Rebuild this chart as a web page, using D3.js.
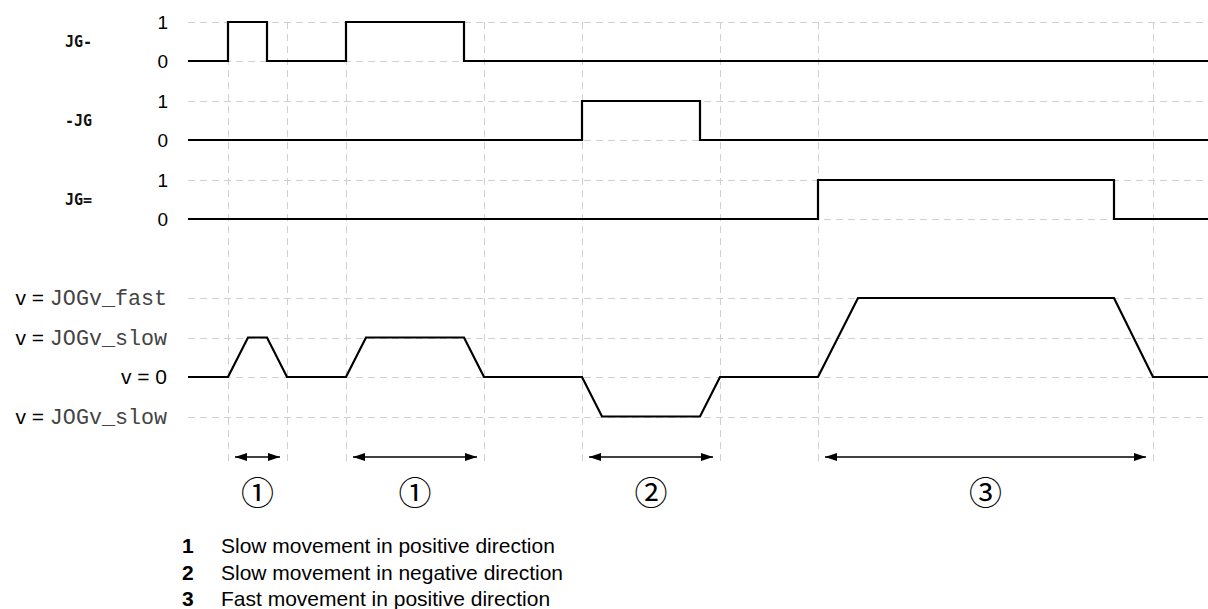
<!DOCTYPE html>
<html>
<head>
<meta charset="utf-8">
<script src="https://cdn.jsdelivr.net/npm/d3@7"></script>
<style>
  html, body { margin: 0; padding: 0; background: #fff; }
  svg { display: block; }
</style>
</head>
<body>
<svg id="chart" width="1208" height="609"></svg>
<script>
// ---------- DATA ----------
const signalNames = ["JG-", "-JG", "JG="];
const signalLevels = [1, 0];
const jgMinus = [[0, 0], [4, 1], [7.9, 0], [15.8, 1], [27.6, 0], [102, 0]];
const minusJg = [[0, 0], [39.4, 1], [51.2, 0], [102, 0]];
const jgEq = [[0, 0], [63, 1], [92.6, 0], [102, 0]];
const velocityLevels = [2, 1, 0, -1];
const velocityPrefix = ["v = ", "v = ", "v = 0", "v = "];
const velocityNames = ["JOGv_fast", "JOGv_slow", "", "JOGv_slow"];
const velocity = [[0, 0], [4, 0], [6, 1], [7.9, 1], [9.9, 0], [15.8, 0], [17.8, 1], [27.6, 1], [29.6, 0],
                  [39.4, 0], [41.4, -1], [51.2, -1], [53.2, 0], [63, 0], [67, 2], [92.6, 2], [96.5, 0], [102, 0]];
const gridTimes = [4, 9.9, 15.8, 29.6, 39.4, 53.2, 63, 96.5];
const spans = [[4, 9.9], [15.8, 29.6], [39.4, 53.2], [63, 96.5]];
const spanLabels = ["\u2460", "\u2460", "\u2461", "\u2462"];
const legendNums = ["1", "2", "3"];
const legendTexts = ["Slow movement in positive direction",
                     "Slow movement in negative direction",
                     "Fast movement in positive direction"];

// ---------- LAYOUT ----------
const svg = d3.select("#chart");
const x = d3.scaleLinear().domain([0, 102]).range([188, 1208]);
const rowY = d3.scalePoint().domain(signalNames).range([22, 180]);
const levelY = d3.scaleLinear().domain([0, 1]).range([39, 0]);
const vY = d3.scaleLinear().domain([-1, 2]).range([416.5, 298]);
const gridTop = 22, gridBottom = 463;
const signals = [jgMinus, minusJg, jgEq];

const grid = svg.append("g").attr("stroke", "#d0d0d0").attr("stroke-width", 1).attr("fill", "none");

signalNames.forEach(n => {
  signalLevels.forEach(l => {
    const yy = Math.round(rowY(n) + levelY(l)) + 0.5;
    grid.append("line").attr("x1", x(0)).attr("x2", x(102)).attr("y1", yy).attr("y2", yy)
      .attr("stroke-dasharray", "7,5");
  });
});
velocityLevels.forEach(v => {
  const yy = Math.round(vY(v)) + 0.5;
  grid.append("line").attr("x1", x(0)).attr("x2", x(102)).attr("y1", yy).attr("y2", yy)
    .attr("stroke-dasharray", "7,5");
});
gridTimes.forEach(t => {
  const xx = Math.round(x(t)) + 0.5;
  grid.append("line").attr("x1", xx).attr("x2", xx).attr("y1", gridTop).attr("y2", gridBottom)
    .attr("stroke-dasharray", "7,5");
});

const stepLine = d3.line().x(d => x(d[0])).curve(d3.curveStepAfter);
signalNames.forEach((n, i) => {
  const g = svg.append("g").attr("transform", `translate(0,${rowY(n)})`);
  g.append("path").datum(signals[i])
    .attr("d", stepLine.y(d => levelY(d[1])))
    .attr("fill", "none").attr("stroke", "#000").attr("stroke-width", 2.2);
  const ax = d3.axisLeft(levelY).tickValues(signalLevels).tickFormat(d3.format("d")).tickSize(0).tickPadding(20);
  const ag = g.append("g").attr("transform", `translate(${x(0)},0)`).call(ax);
  ag.select(".domain").remove();
  ag.selectAll("text").attr("font-family", "Liberation Sans, Arial, sans-serif").attr("font-size", 19).attr("fill", "#000");
  g.append("text").attr("x", 65).attr("y", (levelY(0) + levelY(1)) / 2).attr("dy", "0.35em")
    .attr("font-family", "DejaVu Sans Mono, monospace").attr("font-size", 15).attr("font-weight", "bold")
    .attr("fill", "#111").text(n);
});

svg.append("path").datum(velocity)
  .attr("d", d3.line().x(d => x(d[0])).y(d => vY(d[1])))
  .attr("fill", "none").attr("stroke", "#000").attr("stroke-width", 2.2).attr("stroke-linejoin", "miter");

const vAxis = d3.axisLeft(vY).tickValues(velocityLevels).tickSize(0).tickPadding(21).tickFormat(() => "");
const vg = svg.append("g").attr("transform", `translate(${x(0)},0)`).call(vAxis);
vg.select(".domain").remove();
vg.selectAll(".tick text").each(function(d) {
  const t = d3.select(this).attr("font-size", 21).attr("fill", "#000");
  const idx = velocityLevels.indexOf(d);
  t.append("tspan").attr("font-family", "Liberation Sans, Arial, sans-serif").text(velocityPrefix[idx]);
  if (velocityNames[idx]) {
    t.append("tspan").attr("font-family", "Liberation Mono, Courier New, monospace").attr("font-size", 21.7)
      .attr("fill", "#444").text(velocityNames[idx]);
  }
});

const defs = svg.append("defs");
defs.append("marker").attr("id", "ah").attr("viewBox", "0 0 12 8").attr("refX", 12).attr("refY", 4)
  .attr("markerWidth", 12).attr("markerHeight", 8).attr("markerUnits", "userSpaceOnUse").attr("orient", "auto-start-reverse")
  .append("path").attr("d", "M0,0 L12,4 L0,8 Z").attr("fill", "#000");
const arrowY = 457;
spans.forEach((s, i) => {
  svg.append("line").attr("x1", x(s[0]) + 7).attr("x2", x(s[1]) - 7).attr("y1", arrowY).attr("y2", arrowY)
    .attr("stroke", "#000").attr("stroke-width", 1.5)
    .attr("marker-start", "url(#ah)").attr("marker-end", "url(#ah)");
  svg.append("text").attr("x", (x(s[0]) + x(s[1])) / 2).attr("y", 493).attr("dy", "0.35em")
    .attr("text-anchor", "middle").attr("font-family", "Noto Sans CJK JP, DejaVu Sans, sans-serif")
    .attr("font-size", 33).attr("fill", "#000").text(spanLabels[i]);
});

legendNums.forEach((n, i) => {
  const yy = 553 + i * 26.5;
  svg.append("text").attr("x", 182).attr("y", yy).attr("font-family", "Liberation Sans, Arial, sans-serif")
    .attr("font-size", 21).attr("font-weight", "bold").attr("fill", "#000").text(n);
  svg.append("text").attr("x", 221).attr("y", yy).attr("font-family", "Liberation Sans, Arial, sans-serif")
    .attr("font-size", 21).attr("fill", "#000").text(legendTexts[i]);
});
</script>
</body>
</html>
